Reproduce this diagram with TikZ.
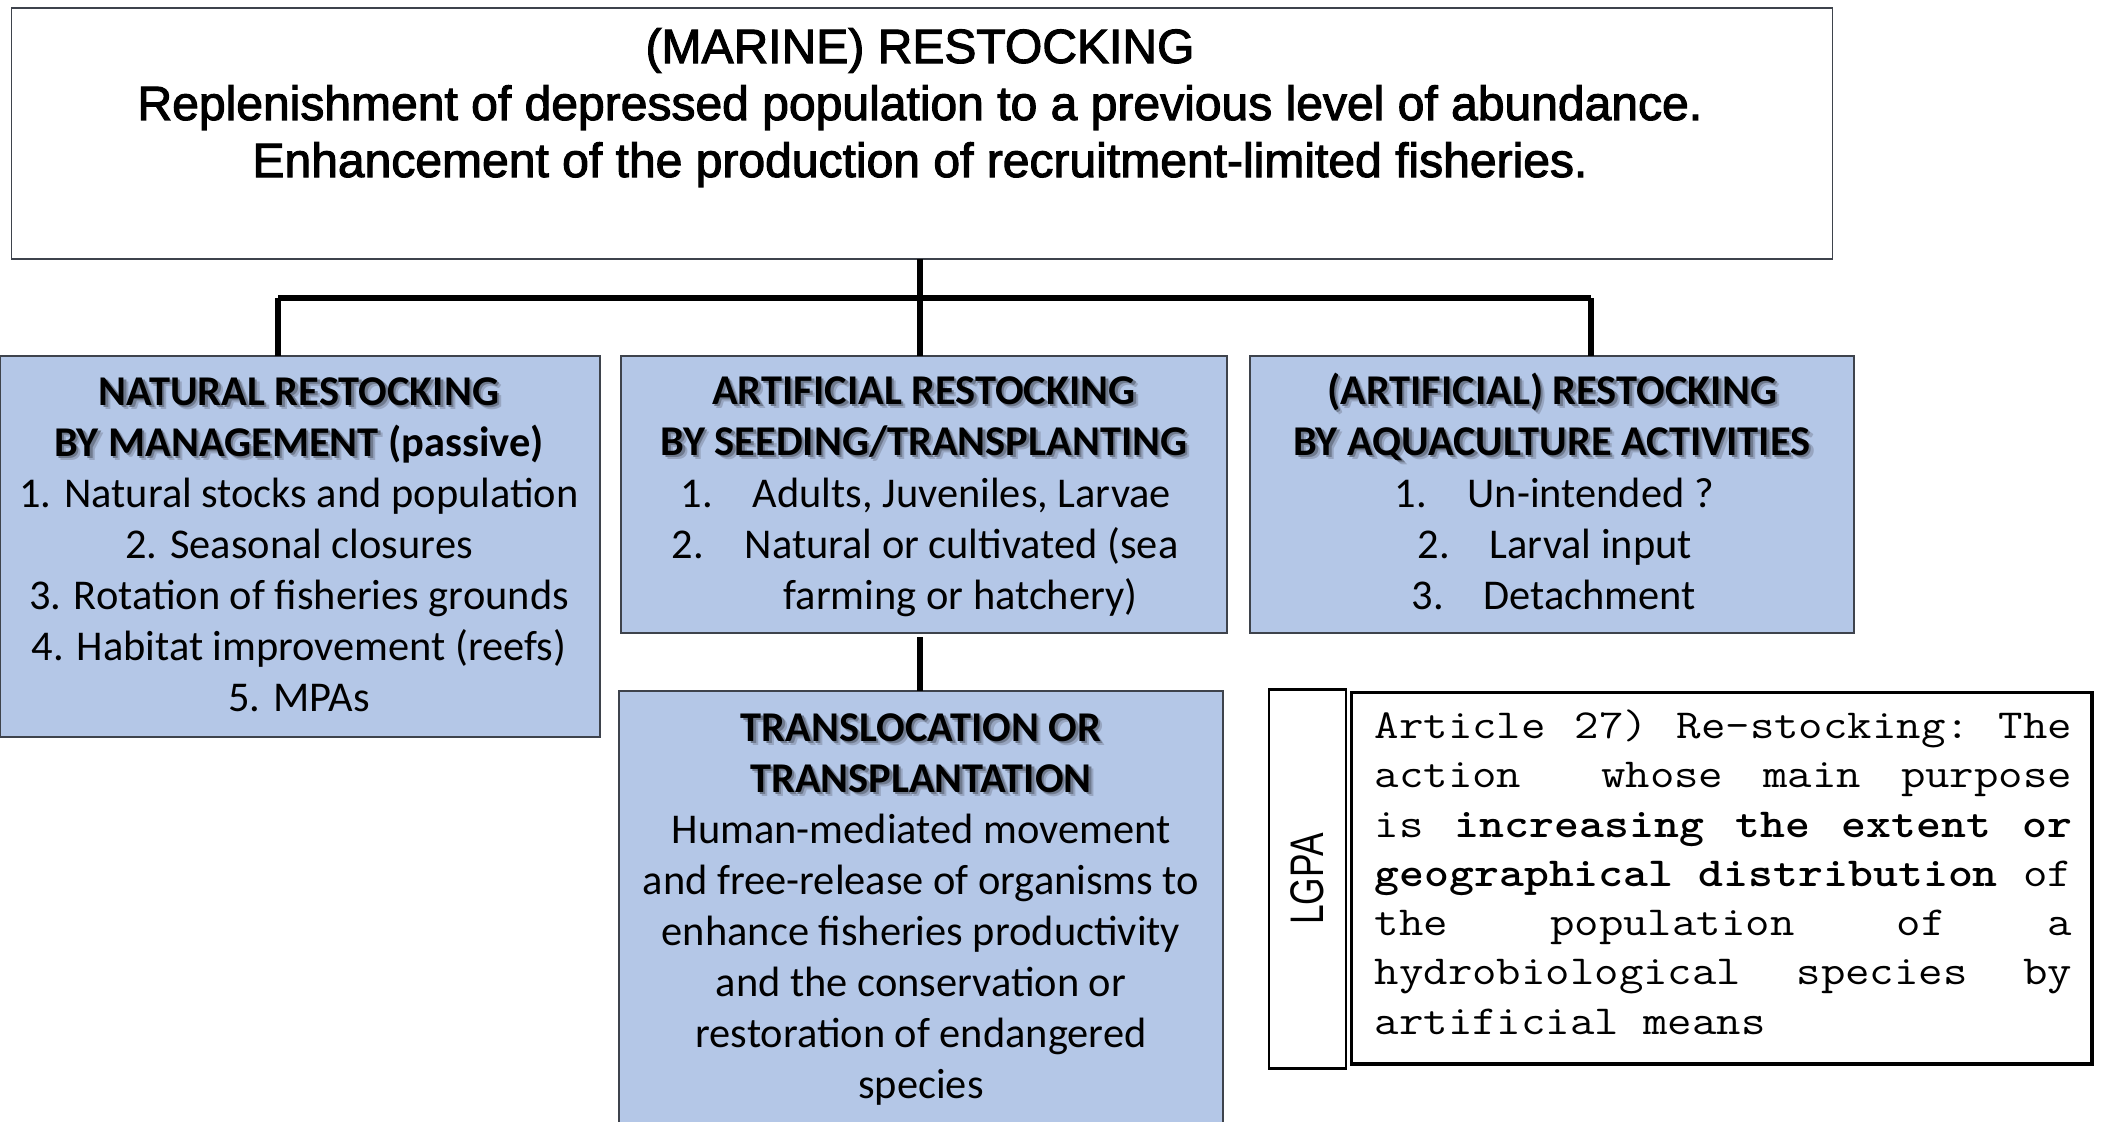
\documentclass[tikz,border=0pt]{standalone}
\usepackage{fontspec}
\setmainfont{Carlito}
\newfontfamily\arialfont[BoldFont={Liberation Sans},BoldFeatures={FakeBold=2.2}]{Liberation Sans}

\definecolor{boxblue}{HTML}{B4C7E7}
\definecolor{boxedge}{HTML}{3E434C}
\definecolor{hdshadowa}{HTML}{6F7A8E}
\definecolor{hdshadowb}{HTML}{97A5C0}

% bold heading with a soft drop shadow
\newcommand\hd[1]{\leavevmode
  \rlap{\kern1.3pt\raisebox{-1.3pt}{\textcolor{hdshadowb}{#1}}}%
  \rlap{\kern0.7pt\raisebox{-0.7pt}{\textcolor{hdshadowa}{#1}}}%
  #1}

% justified typewriter line, widened to the Courier pitch
\newlength\artw
\setlength\artw{6.0609cm}
\newcommand\artline[1]{\scalebox{1.15}[1]{\hbox to \artw{#1}}}

\begin{document}
\begin{tikzpicture}[x=0.01cm,y=-0.01cm,
  bluebox/.style={draw=boxedge,line width=0.45pt,fill=boxblue,inner sep=0,outer sep=0},
  whitebox/.style={draw=boxedge,line width=0.45pt,fill=white,inner sep=0,outer sep=0},
  framebox/.style={draw=black,line width=0.8pt,fill=white,inner sep=0,outer sep=0},
  conn/.style={draw=black,line width=1.45pt},
  txt/.style={inner sep=0,anchor=base,font=\fontsize{12.06pt}{14.5pt}\selectfont},
  txtl/.style={txt,anchor=base west},
  hdtxt/.style={txt,font=\fontsize{12.06pt}{14.5pt}\selectfont\bfseries},
  toptxt/.style={inner sep=0,anchor=base,font=\arialfont\bfseries\fontsize{13.66pt}{16.2pt}\selectfont},
  arttxt/.style={inner sep=0,anchor=base west,font=\ttfamily\fontsize{11.73pt}{14pt}\selectfont}]

\clip (0,0) rectangle (2103,1121);
\fill[white] (0,0) rectangle (2103,1121);

% ---------- boxes ----------
\node[whitebox,minimum width=18.2cm,minimum height=2.51cm] (top) at (922,133.5) {};
\node[bluebox,minimum width=6.0cm,minimum height=3.81cm] (nat) at (300,546.5) {};
\node[bluebox,minimum width=6.06cm,minimum height=2.77cm] (art) at (924,494.5) {};
\node[bluebox,minimum width=6.04cm,minimum height=2.77cm] (aqua) at (1552,494.5) {};
\node[bluebox,minimum width=6.04cm,minimum height=4.6cm] (trans) at (921,921) {};
\node[framebox,minimum width=0.77cm,minimum height=3.78cm] (lgpa) at (1307.5,879) {};
\node[framebox,minimum width=7.4cm,minimum height=3.71cm] (law) at (1722,878.5) {};
\draw[line width=1.15pt] (law.south west) -- (law.south east) -- (law.north east);

% ---------- connectors ----------
\coordinate (hub) at (920,298);
\coordinate (jl) at (278,298);
\coordinate (jr) at (1591,298);
\coordinate (drop) at (920,637);
\draw[conn] (top.south -| hub) -- (hub);
\draw[conn] (jl) -- (jr);
\draw[conn] (jl) -- (jl |- nat.north);
\draw[conn] (hub) -- (hub |- art.north);
\draw[conn] (jr) -- (jr |- aqua.north);
\draw[conn] (drop) -- (drop |- trans.north);

% ---------- title ----------
\node[toptxt] (t1) at (920,63) {(MARINE) RESTOCKING};
\node[toptxt] (t2) at (920,120) {Replenishment of depressed population to a previous level of abundance.};
\node[toptxt] (t3) at (920,177) {Enhancement of the production of recruitment-limited fisheries.};

% ---------- natural restocking ----------
\node[hdtxt] (n1) at (299,405) {\hd{NATURAL RESTOCKING}};
\node[hdtxt] (n2) at (299,456) {\hd{BY MANAGEMENT} (passive)};
\node[txt] (n3) at (299,507) {1. Natural stocks and population};
\node[txt] (n4) at (299,558) {2. Seasonal closures};
\node[txt] (n5) at (299,609) {3. Rotation of fisheries grounds};
\node[txt] (n6) at (299,660) {4. Habitat improvement (reefs)};
\node[txt] (n7) at (299,711) {5. MPAs};

% ---------- artificial restocking ----------
\node[hdtxt] (a1) at (924,404) {\hd{ARTIFICIAL RESTOCKING}};
\node[hdtxt] (a2) at (924,455) {\hd{BY SEEDING/TRANSPLANTING}};
\node[txtl] (a3n) at (680,507) {1.};
\node[txtl] (a3) at (752,507) {Adults, Juveniles, Larvae};
\node[txtl] (a4n) at (671,558) {2.};
\node[txtl] (a4) at (744,558) {Natural or cultivated (sea};
\node[txtl] (a5) at (783,609) {farming or hatchery)};

% ---------- aquaculture ----------
\node[hdtxt] (q1) at (1552,404) {\hd{(ARTIFICIAL) RESTOCKING}};
\node[hdtxt] (q2) at (1552,455) {\hd{BY AQUACULTURE ACTIVITIES}};
\node[txtl] (q3n) at (1394,507) {1.};
\node[txtl] (q3) at (1467,507) {Un-intended ?};
\node[txtl] (q4n) at (1417,558) {2.};
\node[txtl] (q4) at (1489,558) {Larval input};
\node[txtl] (q5n) at (1411,609) {3.};
\node[txtl] (q5) at (1483,609) {Detachment};

% ---------- translocation ----------
\node[hdtxt] (r1) at (921,741) {\hd{TRANSLOCATION OR}};
\node[hdtxt] (r2) at (921,792) {\hd{TRANSPLANTATION}};
\node[txt] (r3) at (921,843) {Human-mediated movement};
\node[txt] (r4) at (921,894) {and free-release of organisms to};
\node[txt] (r5) at (921,945) {enhance fisheries productivity};
\node[txt] (r6) at (921,996) {and the conservation or};
\node[txt] (r7) at (921,1047) {restoration of endangered};
\node[txt] (r8) at (921,1098) {species};

% ---------- LGPA ----------
\node[inner sep=0,rotate=90,font=\arialfont\fontsize{13.4pt}{15pt}\selectfont] (lgpatxt) at (lgpa.center) {\scalebox{0.75}[1]{LGPA}};

\node[arttxt] (l1) at (1374,738) {\artline{Article\hfill 27)\hfill Re-stocking:\hfill The}};
\node[arttxt] (l2) at (1374,787) {\artline{action\hfill\hfill whose\hfill main\hfill purpose}};
\node[arttxt] (l3) at (1374,837) {\artline{is\hfill \textbf{increasing}\hfill \textbf{the}\hfill \textbf{extent}\hfill \textbf{or}}};
\node[arttxt] (l4) at (1374,886) {\artline{\textbf{geographical}\hfill \textbf{distribution}\hfill of}};
\node[arttxt] (l5) at (1374,935) {\artline{the\hfill population\hfill of\hfill a}};
\node[arttxt] (l6) at (1374,984) {\artline{hydrobiological\hfill species\hfill by}};
\node[arttxt] (l7) at (1374,1034) {\scalebox{1.15}[1]{artificial means}};

\end{tikzpicture}
\end{document}
